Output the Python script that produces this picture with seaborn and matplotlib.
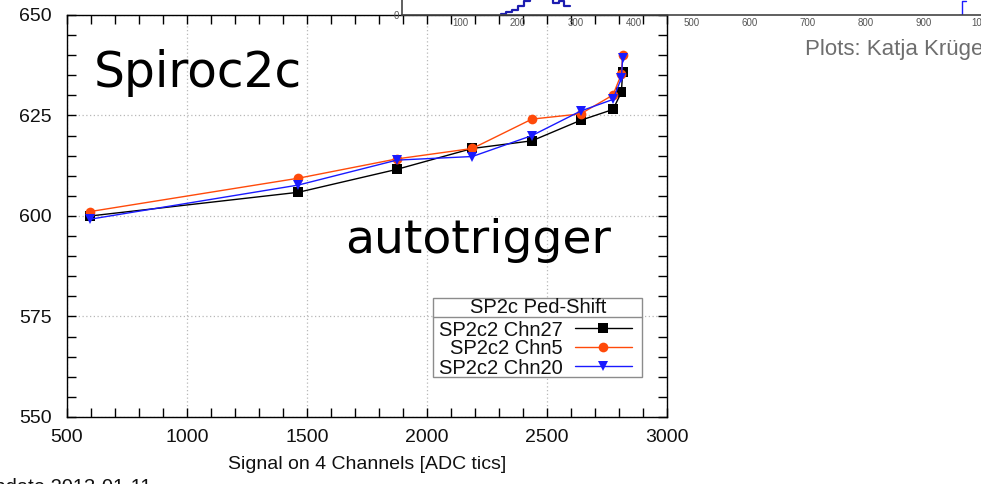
import numpy as np
import pandas as pd
import matplotlib
matplotlib.use("Agg")
import matplotlib.pyplot as plt
from matplotlib.lines import Line2D
from matplotlib.patches import Rectangle
from matplotlib.ticker import MultipleLocator
import seaborn as sns

# ---------------- data ----------------
signal_adc = [596, 1464, 1874, 2189, 2437, 2640, 2775, 2810, 2815]
chn27 = [600.0, 605.9, 611.6, 616.8, 618.7, 623.8, 626.5, 630.8, 635.8]
chn5 = [601.1, 609.4, 614.2, 616.8, 624.1, 625.4, 630.1, 635.3, 640.0]
chn20 = [599.2, 607.7, 613.9, 614.8, 620.0, 626.1, 629.0, 634.3, 639.2]
series_names = ["SP2c2 Chn27", "SP2c2 Chn5", "SP2c2 Chn20"]
series_colors = ["#000000", "#ff4a0a", "#1a1aff"]
series_markers = ["s", "o", "v"]
legend_title = "SP2c Ped-Shift"
x_ticks = [500, 1000, 1500, 2000, 2500, 3000]
y_ticks = [550, 575, 600, 625, 650]

# histogram strip (cropped plot at top)
hist_edges = [170, 180, 190, 200, 210, 220, 230, 240, 250, 260, 270, 280, 290]
hist_counts = [1, 3, 5, 9, 14, 20, 24, 22, 18, 12, 14, 9]
hist2_edges = [960, 966, 972]
hist2_counts = [0, 14]
hist_ticks = [0, 100, 200, 300, 400, 500, 600, 700, 800, 900, 1000]

W, H = 981, 484
sns.set_theme(style="white")
plt.rcParams["font.family"] = ["Liberation Sans", "DejaVu Sans"]

fig = plt.figure(figsize=(W / 100, H / 100), dpi=100)
fig.patch.set_facecolor("white")

def fx(px):
    return px / W

def fy(py):
    return 1 - py / H

# ---------------- main axes ----------------
ax = fig.add_axes([fx(67), fy(417), fx(667) - fx(67), fy(15) - fy(417)])
ax.set_facecolor("white")

df = pd.concat([
    pd.DataFrame({"x": signal_adc, "y": vals, "series": name})
    for name, vals in zip(series_names, [chn27, chn5, chn20])
], ignore_index=True)

for name, col, mk in zip(series_names, series_colors, series_markers):
    sub = df[df["series"] == name]
    sns.lineplot(data=sub, x="x", y="y", color=col, marker=mk, ax=ax,
                 linewidth=1.0, markersize=6.5 if mk != "o" else 7,
                 markeredgewidth=0, sort=False, label=name, legend=False)

ax.set_xlim(500, 3000)
ax.set_ylim(550, 650)
ax.set_xticks(x_ticks)
ax.set_yticks(y_ticks)
ax.xaxis.set_minor_locator(MultipleLocator(100))
ax.yaxis.set_minor_locator(MultipleLocator(5))
ax.tick_params(which="both", direction="in", length=6.5, width=1.0, color="black",
               top=True, right=True, bottom=True, left=True, labelsize=14,
               labelcolor="#111111")
ax.tick_params(axis="x", which="major", pad=9)
ax.tick_params(axis="y", which="major", pad=11)
ax.grid(True, which="major", linestyle=(0, (1, 2)), color="#b8b8b8", linewidth=0.9)
for s in ax.spines.values():
    s.set_color("black")
    s.set_linewidth(1.0)
ax.set_xlabel("Signal on 4 Channels [ADC tics]", fontsize=14, labelpad=6.5, color="#111111")
ax.set_ylabel("")

# legend: frame + title + separator drawn by hand, entries by matplotlib
fig.add_artist(Rectangle((fx(432.5), fy(377)), fx(642) - fx(432.5), fy(297.5) - fy(377),
                         transform=fig.transFigure, facecolor="white",
                         edgecolor="#8c8c8c", linewidth=1.0, zorder=4))
fig.add_artist(Line2D([fx(432.5), fx(642)], [fy(317), fy(317)], transform=fig.transFigure,
                      color="#8c8c8c", linewidth=1.0, zorder=5))
fig.text(fx(538), fy(307.5), legend_title, fontsize=14.5, ha="center", va="center",
         color="#111111", zorder=6)

handles = [Line2D([0], [0], color=c, marker=m, linewidth=1.0,
                  markersize=6.5 if m != "o" else 7, markeredgewidth=0)
           for c, m in zip(series_colors, series_markers)]
leg = fig.legend(handles, series_names, loc="upper right",
                 bbox_to_anchor=(fx(632), fy(320.5)), bbox_transform=fig.transFigure,
                 borderaxespad=0, fontsize=14.5, markerfirst=False, frameon=False,
                 labelspacing=0.0, handlelength=2.85, handletextpad=0.6,
                 borderpad=0, numpoints=1)
leg.set_zorder(7)
for t in leg.get_texts():
    t.set_color("#111111")

# ---------------- histogram strip ----------------
axh = fig.add_axes([fx(402), fy(15), fx(982) - fx(402), fy(-45) - fy(15)])
axh.set_facecolor("none")
sns.histplot(x=np.array(hist_edges[:-1]) + 5, weights=hist_counts, bins=hist_edges,
             element="step", fill=False, color="#1c1cb0", linewidth=1.6, ax=axh)
sns.histplot(x=np.array(hist2_edges[:-1]) + 3, weights=hist2_counts, bins=hist2_edges,
             element="step", fill=False, color="#1c1cff", linewidth=1.0, ax=axh)
axh.set_xlim(0, 1000)
axh.set_ylim(0, 60)
axh.set_xticks(hist_ticks)
axh.set_xticklabels([""] + [str(t) for t in hist_ticks[1:]])
axh.xaxis.set_minor_locator(MultipleLocator(20))
axh.set_yticks([0])
axh.set_yticklabels(["0"])
axh.tick_params(which="major", direction="in", length=7, width=1.0, color="#333333",
                labelsize=7, labelcolor="#555555", pad=2)
axh.tick_params(which="minor", direction="in", length=3.5, width=0.8, color="#444444")
axh.set_xlabel("")
axh.set_ylabel("")
for k in ["top", "right"]:
    axh.spines[k].set_visible(False)
for k in ["bottom", "left"]:
    axh.spines[k].set_color("#444444")
    axh.spines[k].set_linewidth(1.2)

# ---------------- free text ----------------
fig.text(fx(94), fy(87), "Spiroc2c", fontsize=35, family="DejaVu Sans",
         color="black", va="baseline", ha="left")
fig.text(fx(345), fy(253), "autotrigger", fontsize=34, family="DejaVu Sans",
         color="black", va="baseline", ha="left")
fig.text(fx(805), fy(50), "Plots: Katja Krüger", fontsize=16, color="#6e6e6e",
         va="center", ha="left")
fig.text(fx(-20), fy(478), "Update 2013-01-11", fontsize=14.5, color="#111111",
         va="top", ha="left")

fig.savefig("out.png", dpi=100, facecolor="white")
